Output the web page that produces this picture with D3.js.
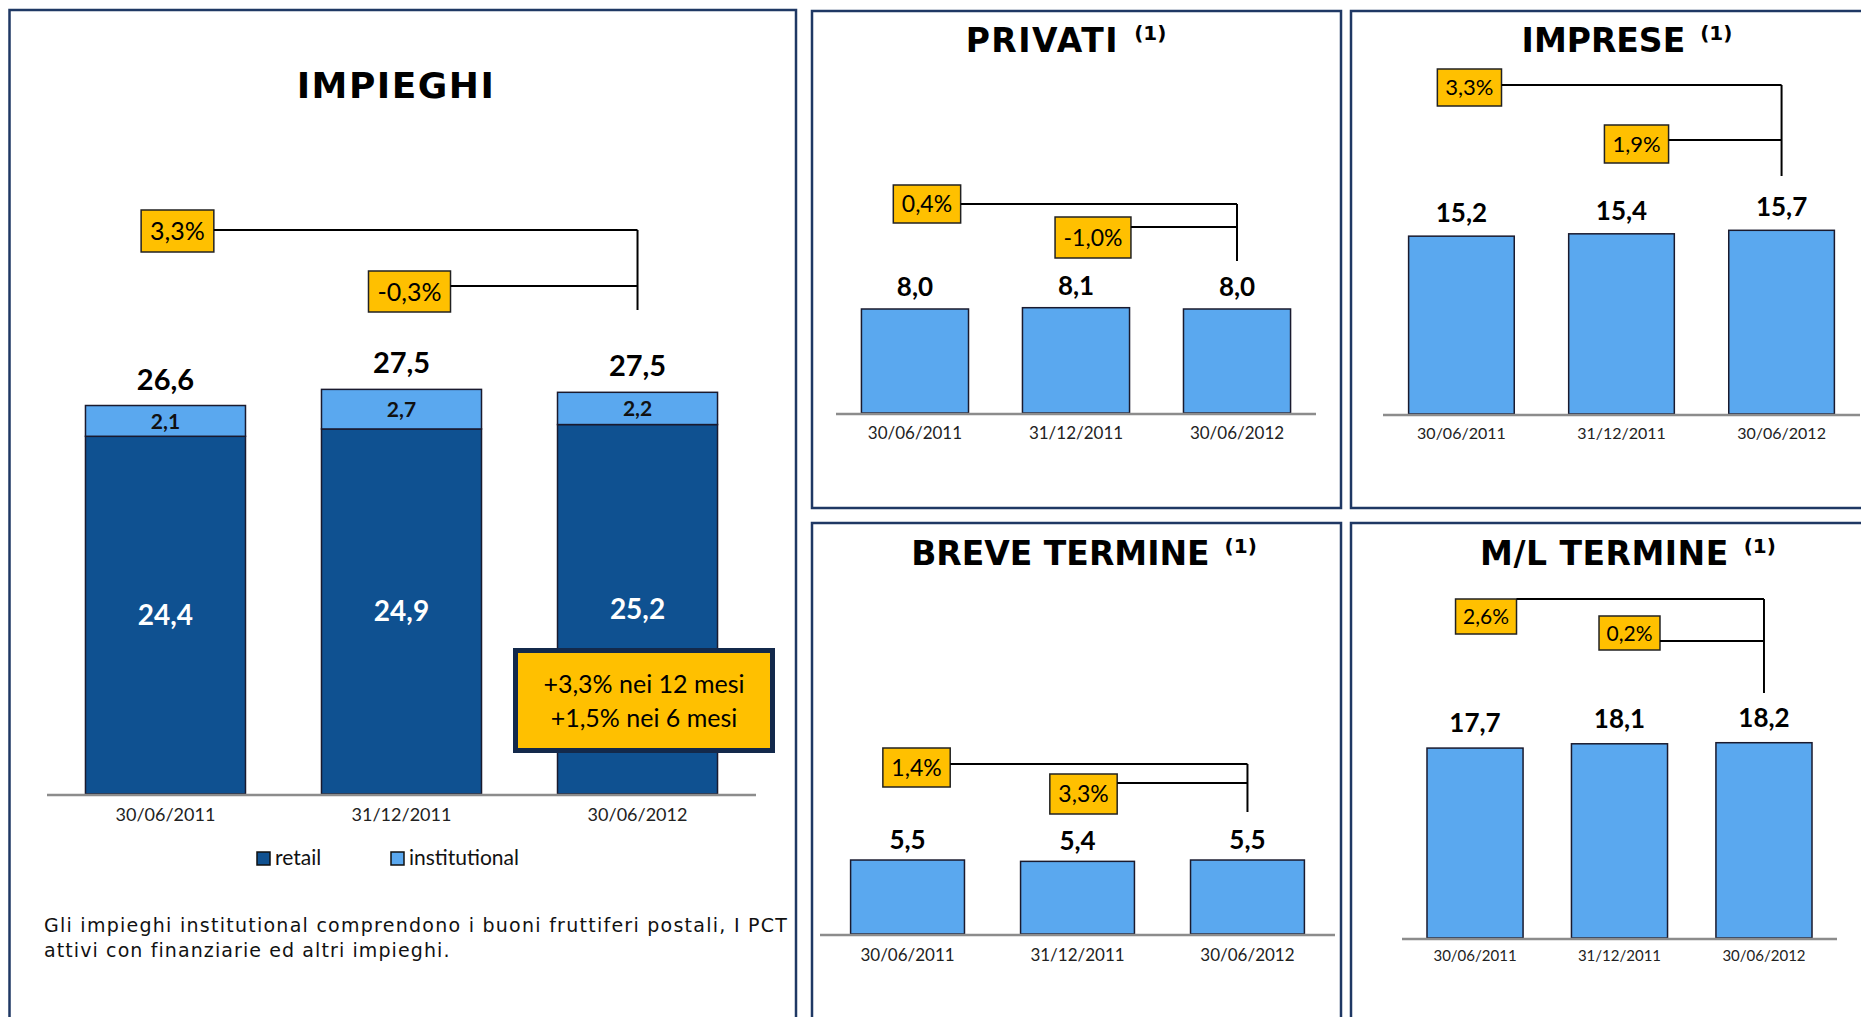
<!DOCTYPE html>
<html>
<head>
<meta charset="utf-8">
<script src="https://cdn.jsdelivr.net/npm/d3@7"></script>
<style>
  body { margin: 0; background: #fff; }
  svg { display: block; }
</style>
</head>
<body>
<svg></svg>
<script>
// DATA
const dates = ['30/06/2011', '31/12/2011', '30/06/2012'];
const retail = [24.4, 24.9, 25.2];
const institutional = [2.1, 2.7, 2.2];
const totals = [26.6, 27.5, 27.5];
const impieghiGrowth = [3.3, -0.3];
const highlight = ['+3,3% nei 12 mesi', '+1,5% nei 6 mesi'];
const legendItems = ['retail', 'institutional'];
const footnote = [
  'Gli impieghi institutional comprendono i buoni fruttiferi postali, I PCT',
  'attivi con finanziarie ed altri impieghi.'
];
const privati = [8.0, 8.1, 8.0];
const privatiGrowth = [0.4, -1.0];
const imprese = [15.2, 15.4, 15.7];
const impreseGrowth = [3.3, 1.9];
const breve = [5.5, 5.4, 5.5];
const breveGrowth = [1.4, 3.3];
const mlTermine = [17.7, 18.1, 18.2];
const mlGrowth = [2.6, 0.2];

const width = window.innerWidth;
const height = window.innerHeight;

const NAVY = '#1f3864';
const DARK = '#0f5191';
const LIGHT = '#5aa8ef';
const YELLOW = '#ffc000';
const SANS = 'Lato, "Open Sans", sans-serif';
const TITLE_FONT = '"DejaVu Sans", Verdana, sans-serif';

const it = d3.formatLocale({ decimal: ',', thousands: '.', grouping: [3], currency: ['', '€'], minus: '-' });
const fmt = it.format('.1f');
const pct = v => fmt(v) + '%';

const svg = d3.select('svg')
  .attr('width', width)
  .attr('height', height);

// PANEL FRAMES
const frames = [
  [9.5, 10, 786.5, 1040],
  [812, 11, 529, 497],
  [1351, 11, 540, 497],
  [812, 523, 529, 520],
  [1351, 523, 540, 520]
];
svg.append('g').selectAll('rect')
  .data(frames)
  .enter().append('rect')
  .attr('x', d => d[0]).attr('y', d => d[1])
  .attr('width', d => d[2]).attr('height', d => d[3])
  .attr('fill', 'none')
  .attr('stroke', NAVY)
  .attr('stroke-width', 2.5);

function title(g, text, x, y, size, sup, spacing) {
  const t = g.append('text')
    .attr('x', x).attr('y', y)
    .attr('text-anchor', 'middle')
    .attr('font-family', TITLE_FONT)
    .attr('font-weight', 'bold')
    .attr('font-size', size)
    .attr('fill', '#000');
  t.append('tspan').attr('letter-spacing', spacing).text(text);
  if (sup) {
    t.append('tspan')
      .attr('dx', 15).attr('dy', -12)
      .attr('font-size', 20)
      .attr('letter-spacing', 0)
      .text('(1)');
  }
}

// growth boxes with bracket lines going to the last bar
function growthBoxes(g, growth, x, ann) {
  const vx = x(dates[2]) + x.bandwidth() / 2;
  const ag = g.append('g');
  ann.boxes.forEach((b, i) => {
    const cx = x(dates[i]) + x.bandwidth() / 2 + b.dx;
    const txt = ag.append('text')
      .attr('x', cx)
      .attr('y', b.y + b.h / 2 + ann.size * 0.36)
      .attr('text-anchor', 'middle')
      .attr('font-family', SANS)
      .attr('font-size', ann.size)
      .attr('fill', '#000')
      .text(pct(growth[i]));
    const w = txt.node().getComputedTextLength() + ann.pad * 2;
    ag.insert('rect', 'text')
      .attr('x', cx - w / 2).attr('y', b.y)
      .attr('width', w).attr('height', b.h)
      .attr('fill', YELLOW)
      .attr('stroke', '#222')
      .attr('stroke-width', 1.5);
    ag.append('line')
      .attr('x1', cx + w / 2).attr('x2', vx)
      .attr('y1', b.lineY).attr('y2', b.lineY)
      .attr('stroke', '#000').attr('stroke-width', 2);
  });
  ag.append('line')
    .attr('x1', vx).attr('x2', vx)
    .attr('y1', ann.boxes[0].lineY).attr('y2', ann.vBottom)
    .attr('stroke', '#000').attr('stroke-width', 2);
}

function axisLine(g, x0, x1, y) {
  g.append('line')
    .attr('x1', x0).attr('x2', x1)
    .attr('y1', y).attr('y2', y)
    .attr('stroke', '#8c8c8c')
    .attr('stroke-width', 2.5);
}

function xLabels(g, x, y, size) {
  g.selectAll('text.xl')
    .data(dates)
    .enter().append('text')
    .attr('class', 'xl')
    .attr('x', d => x(d) + x.bandwidth() / 2)
    .attr('y', y)
    .attr('text-anchor', 'middle')
    .attr('font-family', SANS)
    .attr('font-size', size)
    .attr('fill', '#222')
    .text(d => d);
}

// ---------- IMPIEGHI (stacked) ----------
{
  const g = svg.append('g');
  title(g, 'IMPIEGHI', 396, 98, 36, false, 1.5);

  const baseline = 794;
  const x = d3.scaleBand().domain(dates).range([47, 756]).paddingInner(0.322).paddingOuter(0.163);
  const y = d3.scaleLinear().domain([0, 30]).range([baseline, baseline - 14.66 * 30]);

  const stacked = dates.map((d, i) => ({ date: d, r: retail[i], inst: institutional[i], tot: totals[i] }));

  const bars = g.selectAll('g.bar')
    .data(stacked)
    .enter().append('g')
    .attr('class', 'bar');

  bars.append('rect')
    .attr('x', d => x(d.date))
    .attr('y', d => y(d.r))
    .attr('width', x.bandwidth())
    .attr('height', d => y(0) - y(d.r))
    .attr('fill', DARK)
    .attr('stroke', '#1a1a2e')
    .attr('stroke-width', 1.5);

  bars.append('rect')
    .attr('x', d => x(d.date))
    .attr('y', d => y(d.r + d.inst))
    .attr('width', x.bandwidth())
    .attr('height', d => y(d.r) - y(d.r + d.inst))
    .attr('fill', LIGHT)
    .attr('stroke', '#1a1a2e')
    .attr('stroke-width', 1.5);

  bars.append('text')
    .attr('x', d => x(d.date) + x.bandwidth() / 2)
    .attr('y', d => (y(d.r) + y(0)) / 2 + 10)
    .attr('text-anchor', 'middle')
    .attr('font-family', SANS).attr('font-weight', 'bold')
    .attr('font-size', 28).attr('fill', '#fff')
    .text(d => fmt(d.r));

  bars.append('text')
    .attr('x', d => x(d.date) + x.bandwidth() / 2)
    .attr('y', d => (y(d.r) + y(d.r + d.inst)) / 2 + 8)
    .attr('text-anchor', 'middle')
    .attr('font-family', SANS).attr('font-weight', 'bold')
    .attr('font-size', 21).attr('fill', '#111')
    .text(d => fmt(d.inst));

  bars.append('text')
    .attr('x', d => x(d.date) + x.bandwidth() / 2)
    .attr('y', d => y(d.r + d.inst) - 16)
    .attr('text-anchor', 'middle')
    .attr('font-family', SANS).attr('font-weight', 'bold')
    .attr('font-size', 29).attr('fill', '#000')
    .text(d => fmt(d.tot));

  axisLine(g, 47, 756, baseline + 1);
  xLabels(g, x, 821, 18);

  growthBoxes(g, impieghiGrowth, x, {
    size: 25, pad: 9, vBottom: 310,
    boxes: [{ dx: 12, y: 210, h: 42, lineY: 230 }, { dx: 8, y: 271, h: 41, lineY: 286 }]
  });

  // highlight box
  const hb = g.append('g');
  hb.append('rect')
    .attr('x', 515.5).attr('y', 650.5)
    .attr('width', 257).attr('height', 100)
    .attr('fill', YELLOW)
    .attr('stroke', '#13294b')
    .attr('stroke-width', 5);
  hb.selectAll('text')
    .data(highlight)
    .enter().append('text')
    .attr('x', 644)
    .attr('y', (d, i) => 693 + i * 34)
    .attr('text-anchor', 'middle')
    .attr('font-family', SANS)
    .attr('font-size', 25)
    .attr('fill', '#000')
    .text(d => d);

  // legend
  const lx = [257, 391];
  const lg = g.selectAll('g.legend')
    .data(legendItems)
    .enter().append('g')
    .attr('class', 'legend')
    .attr('transform', (d, i) => `translate(${lx[i]},852)`);
  lg.append('rect')
    .attr('width', 13).attr('height', 13)
    .attr('fill', (d, i) => i === 0 ? DARK : LIGHT)
    .attr('stroke', '#111').attr('stroke-width', 1.5);
  lg.append('text')
    .attr('x', 18).attr('y', 13)
    .attr('font-family', SANS)
    .attr('font-size', 21)
    .attr('fill', '#111')
    .text(d => d);

  // footnote
  g.selectAll('text.note')
    .data(footnote)
    .enter().append('text')
    .attr('class', 'note')
    .attr('x', 44)
    .attr('y', (d, i) => 932 + i * 25)
    .attr('font-family', TITLE_FONT)
    .attr('font-size', 19)
    .attr('fill', '#111')
    .attr('letter-spacing', 1.1)
    .attr('textLength', (d, i) => i === 0 ? 744 : null)
    .attr('lengthAdjust', 'spacing')
    .text(d => d);
}

// ---------- small panels ----------
function simplePanel(cfg) {
  const g = svg.append('g');
  title(g, cfg.title, cfg.titleX, cfg.titleY, 33, true, cfg.spacing);

  const x = d3.scaleBand().domain(dates).range(cfg.axis).paddingInner(cfg.pi).paddingOuter(cfg.po);
  const y = d3.scaleLinear().domain([0, cfg.yMax]).range([cfg.baseline, cfg.baseline - cfg.ppu * cfg.yMax]);
  const data = dates.map((d, i) => ({ date: d, v: cfg.values[i] }));

  g.selectAll('rect.bar')
    .data(data)
    .enter().append('rect')
    .attr('class', 'bar')
    .attr('x', d => x(d.date))
    .attr('y', d => y(d.v))
    .attr('width', x.bandwidth())
    .attr('height', d => y(0) - y(d.v))
    .attr('fill', LIGHT)
    .attr('stroke', '#1a1a2e')
    .attr('stroke-width', 1.5);

  g.selectAll('text.val')
    .data(data)
    .enter().append('text')
    .attr('class', 'val')
    .attr('x', d => x(d.date) + x.bandwidth() / 2)
    .attr('y', d => y(d.v) - cfg.labelOff)
    .attr('text-anchor', 'middle')
    .attr('font-family', SANS).attr('font-weight', 'bold')
    .attr('font-size', 26).attr('fill', '#000')
    .text(d => fmt(d.v));

  axisLine(g, cfg.axis[0], cfg.axis[1], cfg.baseline + 1);
  xLabels(g, x, cfg.xLabelY, cfg.xSize);
  growthBoxes(g, cfg.growth, x, cfg.ann);
}

simplePanel({
  title: 'PRIVATI', titleX: 1066, titleY: 52, spacing: 1.5,
  values: privati, growth: privatiGrowth,
  axis: [836, 1316], pi: 0.335, po: 0.158,
  baseline: 413, ppu: 13, yMax: 10, labelOff: 13,
  xLabelY: 439, xSize: 17,
  ann: { size: 23, pad: 8.5, vBottom: 261,
    boxes: [{ dx: 12, y: 185, h: 38, lineY: 204 }, { dx: 17, y: 217, h: 41, lineY: 227 }] }
});

simplePanel({
  title: 'IMPRESE', titleX: 1627, titleY: 52, spacing: 0,
  values: imprese, growth: impreseGrowth,
  axis: [1383, 1860], pi: 0.34, po: 0.16,
  baseline: 414, ppu: 11.7, yMax: 20, labelOff: 14,
  xLabelY: 439, xSize: 16,
  ann: { size: 22, pad: 8, vBottom: 176,
    boxes: [{ dx: 8, y: 69, h: 37, lineY: 85 }, { dx: 15, y: 125, h: 38, lineY: 140 }] }
});

simplePanel({
  title: 'BREVE TERMINE', titleX: 1084, titleY: 565, spacing: 0,
  values: breve, growth: breveGrowth,
  axis: [820, 1335], pi: 0.33, po: 0.18,
  baseline: 934, ppu: 13.45, yMax: 10, labelOff: 11,
  xLabelY: 961, xSize: 17,
  ann: { size: 23, pad: 8.5, vBottom: 812,
    boxes: [{ dx: 9, y: 748, h: 39, lineY: 764 }, { dx: 6, y: 774, h: 40, lineY: 783 }] }
});

simplePanel({
  title: 'M/L TERMINE', titleX: 1628, titleY: 565, spacing: 0.5,
  values: mlTermine, growth: mlGrowth,
  axis: [1402, 1837], pi: 0.335, po: 0.173,
  baseline: 938, ppu: 10.73, yMax: 20, labelOff: 16,
  xLabelY: 961, xSize: 15,
  ann: { size: 21, pad: 7.5, vBottom: 693,
    boxes: [{ dx: 11, y: 599, h: 35, lineY: 599 }, { dx: 10, y: 616, h: 34, lineY: 641 }] }
});
</script>
</body>
</html>
